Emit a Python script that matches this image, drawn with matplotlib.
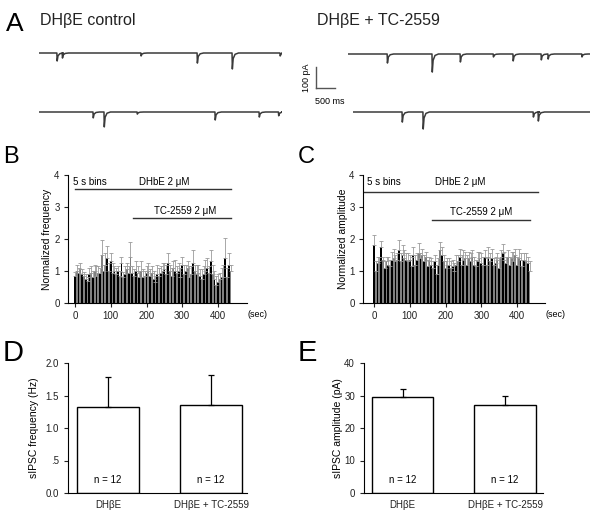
import numpy as np
import matplotlib
matplotlib.use('Agg')
import matplotlib.pyplot as plt

plt.rcParams['font.family'] = ['Liberation Sans', 'DejaVu Sans']

W, H = 600, 522

# ---- panel A: example traces (event times in s, amplitudes in pA) ----
trace_ctrl_top_t = [0.47, 0.61, 2.68, 4.16, 5.08, 6.34]
trace_ctrl_top_a = [38, 24, 14, 48, 76, 14]
trace_ctrl_bot_t = [1.42, 1.71, 2.58, 4.63, 5.79, 6.30]
trace_ctrl_bot_a = [28, 71, 10, 38, 24, 18]
trace_tc_top_t = [1.03, 2.21, 2.95, 3.82, 4.34, 5.08, 5.26, 6.15]
trace_tc_top_a = [43, 86, 38, 14, 33, 28, 24, 14]
trace_tc_bot_t = [1.29, 1.84, 4.74, 4.87]
trace_tc_bot_a = [48, 81, 24, 43]
# shape of one synaptic current (relative time, relative amplitude)
event_t = [0.0, 0.008, 0.03, 0.08, 0.17]
event_y = [0.0, -1.0, -0.35, -0.08, 0.0]

# ---- panels B, C: 5 s bins ----
bin_width = 5
freq_norm = [0.85, 1.00, 0.95, 1.05, 0.90, 0.85, 0.75, 0.70, 0.90, 0.95,
             0.80, 1.00, 0.85, 0.95, 0.95, 1.50, 1.00, 1.20, 1.40, 1.00,
             1.30, 0.95, 1.00, 0.90, 1.00, 0.85, 1.25, 0.80, 0.90, 1.05,
             0.95, 1.45, 0.95, 0.85, 1.00, 0.95, 0.80, 1.00, 0.80, 0.85,
             0.95, 1.00, 0.85, 0.95, 0.75, 0.65, 0.90, 0.85, 0.95, 1.00,
             1.05, 0.90, 1.25, 1.00, 0.85, 1.10, 1.00, 0.95, 1.00, 0.80,
             1.20, 0.90, 1.00, 1.10, 0.80, 0.90, 1.25, 1.00, 0.90, 0.95,
             0.85, 0.75, 0.90, 1.00, 1.10, 0.95, 1.30, 0.90, 0.75, 0.55,
             0.65, 0.75, 0.80, 0.80, 1.40, 0.80, 1.20, 1.00]
freq_err = [0.12, 0.18, 0.15, 0.20, 0.15, 0.12, 0.15, 0.12, 0.20, 0.20,
            0.20, 0.18, 0.30, 0.20, 0.15, 0.47, 0.20, 0.35, 0.38, 0.25,
            0.27, 0.30, 0.15, 0.20, 0.15, 0.15, 0.20, 0.18, 0.25, 0.20,
            0.20, 0.45, 0.20, 0.20, 0.30, 0.20, 0.20, 0.30, 0.25, 0.15,
            0.20, 0.25, 0.20, 0.20, 0.25, 0.20, 0.30, 0.25, 0.20, 0.25,
            0.20, 0.30, 0.30, 0.20, 0.25, 0.20, 0.35, 0.20, 0.25, 0.30,
            0.25, 0.30, 0.20, 0.20, 0.35, 0.25, 0.40, 0.20, 0.30, 0.25,
            0.20, 0.30, 0.25, 0.35, 0.30, 0.20, 0.35, 0.30, 0.25, 0.30,
            0.25, 0.20, 0.30, 0.40, 0.63, 0.30, 0.35, 0.20]
amp_norm = [1.80, 1.00, 1.25, 1.30, 1.75, 1.35, 1.10, 1.30, 1.20, 1.15,
            1.35, 1.40, 1.30, 1.35, 1.65, 1.30, 1.50, 1.40, 1.35, 1.30,
            1.35, 1.15, 1.50, 1.20, 1.35, 1.55, 1.40, 1.50, 1.30, 1.45,
            1.15, 1.30, 1.20, 1.10, 1.30, 0.90, 1.20, 1.65, 1.50, 1.30,
            1.10, 1.20, 1.20, 1.10, 1.15, 1.00, 1.20, 1.30, 1.45, 1.20,
            1.35, 1.40, 1.20, 1.40, 1.30, 1.45, 1.20, 1.15, 1.30, 1.40,
            1.25, 1.20, 1.45, 1.20, 1.45, 1.30, 1.40, 1.20, 1.25, 1.35,
            1.10, 1.45, 1.55, 1.35, 1.25, 1.45, 1.20, 1.40, 1.30, 1.50,
            1.20, 1.40, 1.35, 1.15, 1.35, 1.30, 1.25, 1.00]
amp_err = [0.32, 0.30, 0.20, 0.15, 0.18, 0.10, 0.20, 0.15, 0.25, 0.20,
           0.25, 0.30, 0.20, 0.20, 0.33, 0.25, 0.30, 0.25, 0.20, 0.25,
           0.15, 0.30, 0.25, 0.30, 0.20, 0.33, 0.15, 0.20, 0.20, 0.15,
           0.20, 0.15, 0.20, 0.20, 0.20, 0.30, 0.20, 0.25, 0.25, 0.20,
           0.20, 0.20, 0.20, 0.20, 0.20, 0.25, 0.30, 0.20, 0.25, 0.30,
           0.30, 0.20, 0.30, 0.20, 0.25, 0.20, 0.25, 0.20, 0.30, 0.20,
           0.30, 0.25, 0.20, 0.20, 0.30, 0.25, 0.30, 0.20, 0.20, 0.20,
           0.30, 0.20, 0.30, 0.25, 0.20, 0.20, 0.25, 0.20, 0.30, 0.20,
           0.25, 0.30, 0.20, 0.20, 0.20, 0.25, 0.20, 0.30]
dhbe_on = [0, 435]
tc_on = [162, 435]

# ---- panels D, E: means ----
groups = ['DH\u03b2E', 'DH\u03b2E + TC-2559']
freq_mean = [1.33, 1.35]
freq_sem = [0.45, 0.47]
amp_mean = [29.5, 27.1]
amp_sem = [2.5, 2.7]
n_cells = [12, 12]


def ax_at(left, top, right, bottom):
    return fig.add_axes([left / W, 1 - bottom / H, (right - left) / W, (bottom - top) / H])


def ftext(x, y, s, **kw):
    fig.text(x / W, 1 - y / H, s, **kw)


def build_trace(duration, times, amps):
    t = [0.0]
    y = [0.0]
    for ti, ai in zip(times, amps):
        for et, ey in zip(event_t, event_y):
            t.append(ti + et)
            y.append(ey * ai)
    t.append(duration)
    y.append(0.0)
    return np.array(t), np.array(y)


PX_S = 38.0    # px per second
PX_PA = 0.21   # px per pA


def trace_ax(x0, x1, base):
    ax = ax_at(x0, base - 14, x1, base + 26)
    ax.set_xlim(0, (x1 - x0) / PX_S)
    ax.set_ylim(-26 / PX_PA, 14 / PX_PA)
    ax.axis('off')
    return ax


fig = plt.figure(figsize=(6, 5.22), dpi=100)

# panel A
ftext(6, 24, 'A', fontsize=19, va='center')
ftext(40, 21, 'DH\u03b2E control', fontsize=11.5, va='center', color='#222222')
ftext(317, 21, 'DH\u03b2E + TC-2559', fontsize=11.5, va='center', color='#222222')

for (x0, x1, base, tt, aa) in [(39, 282, 53, trace_ctrl_top_t, trace_ctrl_top_a),
                               (39, 282, 112, trace_ctrl_bot_t, trace_ctrl_bot_a),
                               (348, 590, 54, trace_tc_top_t, trace_tc_top_a),
                               (353, 590, 112, trace_tc_bot_t, trace_tc_bot_a)]:
    ax = trace_ax(x0, x1, base)
    t, y = build_trace((x1 - x0) / PX_S, tt, aa)
    ax.plot(t, y, color='#3a3a3a', lw=1.1)

# scale bar
sb = ax_at(290, 60, 350, 110)
sb.set_xlim((290 - 316) / PX_S, (350 - 316) / PX_S)
sb.set_ylim((88 - 110) / PX_PA, (88 - 60) / PX_PA)
sb.axis('off')
sb.plot([0, 0], [100, 0], color='#555555', lw=1)
sb.plot([0, 0.5], [0, 0], color='#555555', lw=1)
sb.text(-0.25, 50, '100 pA', rotation=90, fontsize=6.5, ha='center', va='center')
sb.text(0.37, -62, '500 ms', fontsize=6.5, ha='center', va='center')


def bins_panel(left, top, right, bottom, x0px, letter, lx, vals, errs, ylabel, ylx,
               line1_y, line1_x, line2_y, lab_pos):
    ax = ax_at(left, top, right, bottom)
    scale = 0.3575
    ax.set_xlim(-(x0px - left) / scale, (right - x0px) / scale)
    ax.set_ylim(0, 4)
    n = len(vals)
    x = np.arange(n) * bin_width
    cols = ['black' if i % 2 == 0 else '#808080' for i in range(n)]
    ax.bar(x, vals, width=bin_width, color=cols, linewidth=0, align='center')
    ax.errorbar(x, vals, yerr=[np.zeros(n), errs], fmt='none', ecolor='#9a9a9a',
                elinewidth=0.6, capsize=1.2, capthick=0.6)
    ax.plot(line1_x, [line1_y, line1_y], color='#333333', lw=1)
    ax.plot(tc_on, [line2_y, line2_y], color='#333333', lw=1)
    (b_x, b_y), (d_x, d_y), (t_x, t_y) = lab_pos
    ax.text(b_x, b_y, '5 s bins', fontsize=7, va='center')
    ax.text(d_x, d_y, 'DHbE 2 \u03bcM', fontsize=7, ha='center', va='center')
    ax.text(t_x, t_y, 'TC-2559 2 \u03bcM', fontsize=7, ha='center', va='center')
    ax.set_xticks([0, 100, 200, 300, 400])
    ax.set_yticks([0, 1, 2, 3, 4])
    ax.tick_params(labelsize=7, length=3, width=0.8, pad=3, colors='#222222')
    for s in ['top', 'right']:
        ax.spines[s].set_visible(False)
    for s in ['left', 'bottom']:
        ax.spines[s].set_linewidth(0.8)
    ax.set_ylabel(ylabel, fontsize=7.5)
    ax.yaxis.set_label_coords((ylx - left) / (right - left), 0.5)
    ax.text(1.0, -0.09, '(sec)', transform=ax.transAxes, fontsize=6.5, ha='left', va='center')
    ftext(lx, 157, letter, fontsize=17, va='center')
    return ax


bins_panel(68, 175, 247, 303, 75, 'B', 3, freq_norm, freq_err,
           'Normalized frequency', 52, 3.56, [0, 435], 2.66,
           [(-5, 3.78), (250, 3.78), (308, 2.87)])
bins_panel(363, 175, 545, 303, 374, 'C', 298, amp_norm, amp_err,
           'Normalized amplitude', 348, 3.47, [-30, 460], 2.60,
           [(-20, 3.78), (240, 3.78), (300, 2.83)])


def mean_panel(left, top, right, bottom, c0px, pxu, letter, lx, means, sems,
               ymax, yticks, yticklabels, ylabel, ylx, ny):
    ax = ax_at(left, top, right, bottom)
    ax.set_xlim(-(c0px - left) / pxu, 1 + (right - c0px - pxu) / pxu)
    ax.set_ylim(0, ymax)
    xs = np.arange(len(means))
    ax.bar(xs, means, width=0.6, color='white', edgecolor='black', linewidth=1)
    ax.errorbar(xs, means, yerr=[np.zeros(len(means)), sems], fmt='none', ecolor='black',
                elinewidth=0.9, capsize=2, capthick=0.9)
    for xi, n in zip(xs, n_cells):
        ax.text(xi, ny, 'n = %d' % n, fontsize=7, ha='center', va='center')
    ax.set_xticks(xs)
    ax.set_xticklabels(groups)
    ax.set_yticks(yticks)
    ax.set_yticklabels(yticklabels)
    ax.tick_params(axis='y', labelsize=7, length=3, width=0.8, colors='#222222')
    ax.tick_params(axis='x', labelsize=7, length=0, pad=5, colors='#222222')
    for s in ['top', 'right']:
        ax.spines[s].set_visible(False)
    for s in ['left', 'bottom']:
        ax.spines[s].set_linewidth(0.8)
    ax.set_ylabel(ylabel, fontsize=7.5)
    ax.yaxis.set_label_coords((ylx - left) / (right - left), 0.5)
    ftext(lx, 353, letter, fontsize=21, va='center')
    return ax


mean_panel(68, 363, 247, 493, 108, 103, 'D', 3, freq_mean, freq_sem, 2.0,
           [0, 0.5, 1.0, 1.5, 2.0], ['0.0', '.5', '1.0', '1.5', '2.0'],
           'sIPSC frequency (Hz)', 39, 0.2)
mean_panel(364, 363, 543, 493, 402.5, 102.5, 'E', 298, amp_mean, amp_sem, 40,
           [0, 10, 20, 30, 40], ['0', '10', '20', '30', '40'],
           'sIPSC amplitude (pA)', 343, 4)

fig.savefig('out.png', dpi=100)
